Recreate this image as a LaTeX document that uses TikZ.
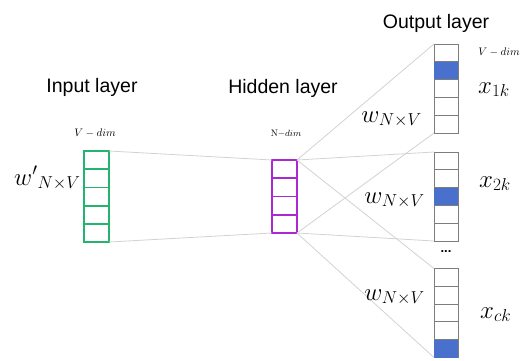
\documentclass[tikz,border=0pt]{standalone}
\usepackage{fontspec}
\newfontfamily\arialfont{Liberation Sans}
\usepackage{xcolor}
\usepackage{tikz}
\usetikzlibrary{positioning,calc}

\definecolor{ingreen}{RGB}{36,180,110}
\definecolor{hidpurple}{RGB}{172,40,212}
\definecolor{hotblue}{RGB}{72,112,204}
\definecolor{colgray}{RGB}{125,125,125}
\definecolor{fangray}{RGB}{210,210,210}

\begin{document}
\begin{tikzpicture}[
    x=1pt, y=-1pt,
    title/.style={font=\arialfont\fontsize{19.5}{22}\selectfont, anchor=base},
    dimtag/.style={font=\fontsize{11}{12}\selectfont, anchor=base},
    wtag/.style={font=\fontsize{25}{28}\selectfont, anchor=base east, inner sep=0},
    vectag/.style={font=\fontsize{27}{30}\selectfont, anchor=base west, inner sep=0},
    cell/.style={inner sep=0, outer sep=0, minimum width=25pt},
    incol/.style={cell, draw=ingreen, line width=1.8pt, minimum height=91pt},
    hidcol/.style={cell, draw=hidpurple, line width=1.8pt, minimum height=73pt},
    outcol/.style={cell, draw=colgray, line width=1pt, minimum width=24pt, minimum height=89pt},
    fan/.style={fangray, line width=0.8pt},
]
\useasboundingbox (0,0) rectangle (526,360);

% ---------------------------------------------------------------
% Input layer
% ---------------------------------------------------------------
\node[title] (intitle) at (92,92) {Input layer};
\node[dimtag] (indim) at (95,136) {$V-dim$};
\node[incol] (inp) at (96.5,196.5) {};
\foreach \i in {1,...,4}
    \draw[ingreen, line width=1.8pt]
        ($(inp.north west)!\i/5!(inp.south west)$) -- ($(inp.north east)!\i/5!(inp.south east)$);
\node[font=\fontsize{23}{26}\selectfont, anchor=base west, inner sep=0] (wprime) at (14,185) {${w'}_{N\times V}$};

% ---------------------------------------------------------------
% Hidden layer
% ---------------------------------------------------------------
\node[title] (hidtitle) at (283,93) {Hidden layer};
\node[dimtag, font=\fontsize{9.5}{11}\selectfont] (hiddim) at (286,136) {$\mathrm{N}{-}dim$};
\node[hidcol] (hid) at (284.5,196.5) {};
\foreach \i in {1,...,3}
    \draw[hidpurple, line width=1.8pt]
        ($(hid.north west)!\i/4!(hid.south west)$) -- ($(hid.north east)!\i/4!(hid.south east)$);

% fan from input to hidden
\draw[fan] (inp.north east) -- (hid.north west);
\draw[fan] (inp.south east) -- (hid.south west);

% ---------------------------------------------------------------
% Output layer: three V-dim columns, one hot cell each
% ---------------------------------------------------------------
\node[title] (outtitle) at (436,28) {Output layer};
\node[dimtag] (outdim) at (499,55) {$V-dim$};

\foreach \name/\yc/\hot in {o1/88.5/1, o2/196.5/2, o3/313/4} {
    \node[outcol] (\name) at (446,\yc) {};
    \pgfmathtruncatemacro{\next}{\hot+1}
    \fill[hotblue] ($(\name.north west)!\hot/5!(\name.south west)$)
        rectangle ($(\name.north east)!\next/5!(\name.south east)$);
    \foreach \i in {1,...,4}
        \draw[colgray, line width=1pt]
            ($(\name.north west)!\i/5!(\name.south west)$) -- ($(\name.north east)!\i/5!(\name.south east)$);
    \draw[fan] (hid.north east) -- (\name.north west);
    \draw[fan] (hid.south east) -- (\name.south west);
}

\node[wtag] (w1) at (422,122) {$w_{N\times V}$};
\node[wtag] (w2) at (425,203) {$w_{N\times V}$};
\node[wtag] (w3) at (425,300) {$w_{N\times V}$};

\node[vectag] (x1) at (478,93) {$x_{1k}$};
\node[vectag] (x2) at (479,187) {$x_{2k}$};
\node[vectag] (x3) at (480,318) {$x_{ck}$};

\node[font=\arialfont\bfseries\fontsize{13}{14}\selectfont] (dots) at (446,252) {...};

\end{tikzpicture}
\end{document}
